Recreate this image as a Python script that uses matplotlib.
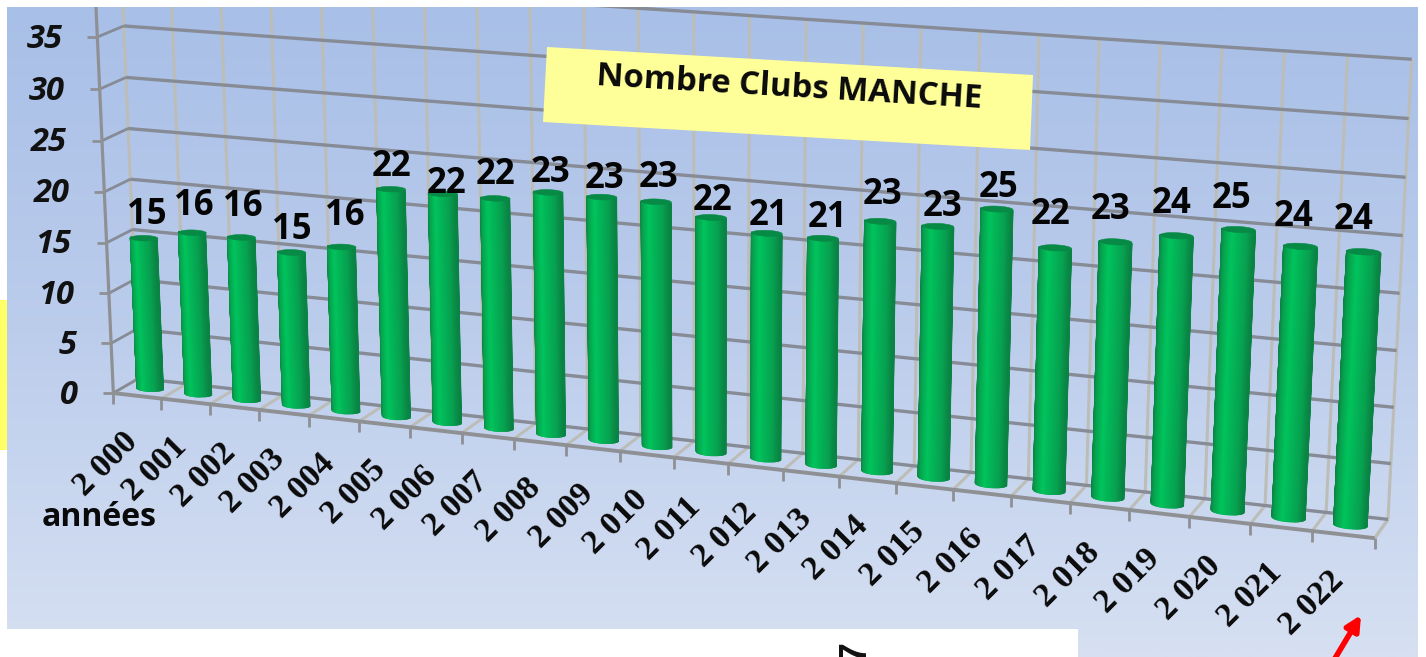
import numpy as np
import matplotlib
matplotlib.use("Agg")
import matplotlib.pyplot as plt
from matplotlib.colors import LinearSegmentedColormap
from matplotlib.patches import Polygon

# data
years = ['2 000', '2 001', '2 002', '2 003', '2 004', '2 005', '2 006', '2 007', '2 008', '2 009', '2 010', '2 011',
         '2 012', '2 013', '2 014', '2 015', '2 016', '2 017', '2 018', '2 019', '2 020', '2 021', '2 022']
clubs = [15, 16, 16, 15, 16, 22, 22, 22, 23, 23, 23, 22, 21, 21, 23, 23, 25, 22, 23, 24, 25, 24, 24]
y_ticks = [0, 5, 10, 15, 20, 25, 30, 35]
grid_values = [0, 5, 10, 15, 20, 25, 30, 35, 40]

# label nudges from the top of each bar (the labels were moved by hand in the original)
label_dx = [3, 1, 1, 0, 3, 0, 3, 0, 2, 2, 2, 1, 2, 4, 2, 4, 1, -5, -5, -5, -7, -7, -10]
label_dy = [-23, -27, -30, -22, -31, -22, -10, -23, -19, -18, -24, -16, -17, -20, -26, -19, -21,
            -33, -32, -32, -31, -29, -32]

W, H = 1426, 657
GRID_DARK = '#868b96'
GRID_LIGHT = '#bdbdb8'

fig = plt.figure(figsize=(W / 100, H / 100), dpi=100)
ax = fig.add_axes([0, 0, 1, 1])
ax.set_xlim(0, W)
ax.set_ylim(H, 0)
ax.axis('off')

# camera: fit a projection matrix on the corners of the 3d box (category, value, depth) -> pixel
world = [(0, 0, 0), (23, 0, 0), (0, 0, 1), (23, 0, 1), (0, 40, 1), (23, 40, 1), (0, 40, 0),
         (7, 0, 0), (20, 0, 0), (17, 40, 1), (7, 35, 1)]
pixel = [(114, 392), (1375, 539), (138, 380), (1388, 518), (123, -26), (1412, 60), (94, -15),
         (462, 433), (1189, 517), (1039, 35), (477, 50)]
A = []
b = []
for (u, v, z), (px, py) in zip(world, pixel):
    A.append([u, v, z, 1, 0, 0, 0, 0, -px * u, -px * v, -px * z])
    A.append([0, 0, 0, 0, u, v, z, 1, -py * u, -py * v, -py * z])
    b += [px, py]
P = np.append(np.linalg.lstsq(np.array(A, float), np.array(b, float), rcond=None)[0], 1).reshape(3, 4)


def proj(u, v, z):
    u, v, z = np.broadcast_arrays(u, v, z)
    p = P @ np.array([u, v, z, np.ones_like(u)], float)
    return p[0] / p[2], p[1] / p[2]


# background panel
panel = Polygon([(7, 7), (1418, 7), (1418, 657), (1078, 657), (1078, 629), (7, 629)], closed=True,
                fc='none', ec='none')
ax.add_patch(panel)
grad = LinearSegmentedColormap.from_list('bg', ['#a8bfe7', '#bccdec', '#d6e0f2'])
im = ax.imshow(np.linspace(0, 1, 300).reshape(-1, 1), cmap=grad, extent=(7, 1418, 657, 7), aspect='auto', zorder=0)
im.set_clip_path(panel)
ax.set_xlim(0, W)
ax.set_ylim(H, 0)


def seg(p0, p1, color, lw, zorder=1):
    line, = ax.plot([p0[0], p1[0]], [p0[1], p1[1]], color=color, lw=lw, zorder=zorder, solid_capstyle='butt')
    line.set_clip_path(panel)


# walls and floor
for i in range(24):
    seg(proj(i, 0, 1), proj(i, 40, 1), GRID_LIGHT, 2.2)
    seg(proj(i, 0, 0), proj(i, 0, 1), GRID_LIGHT, 2.2)
for val in grid_values:
    seg(proj(0, val, 1), proj(23, val, 1), GRID_DARK, 2.4, 1.5)
    seg(proj(0, val, 0), proj(0, val, 1), GRID_DARK, 2.0, 1.5)
seg(proj(0, 0, 0), proj(0, 40, 0), '#8e9094', 2.3, 1.6)
seg(proj(0, 0, 0), proj(23, 0, 0), '#8e9094', 2.8, 1.6)
seg(proj(23, 0, 0), proj(23, 0, 1), GRID_LIGHT, 2.2)

# ticks
for val in y_ticks:
    x0, y0 = proj(0, val, 0)
    seg((x0 - 10, y0), (x0, y0), '#8e9094', 2.0, 1.6)
    ax.text(x0 - 35, y0 + 2, str(val), ha='right', va='center', fontsize=23.5, fontstyle='italic',
            fontweight='bold', family='Open Sans', color='#111111', zorder=5)
for i in range(24):
    x0, y0 = proj(i, 0, 0)
    seg((x0, y0), (x0, y0 + 11), '#8e9094', 2.0, 1.6)

# bars
shade = LinearSegmentedColormap.from_list('bar', [(0, '#0a8444'), (0.15, '#07a050'), (0.6, '#00c45c'),
                                                  (0.85, '#07a24f'), (1, '#0a8042')])
R_U, R_Z = 0.265, 0.19
Z_C = 0.52
theta = np.linspace(np.pi, 0, 71)
for i, val in enumerate(clubs):
    cu = i + 0.5
    for k in range(len(theta) - 1):
        t0, t1 = theta[k], theta[k + 1]
        us = cu + R_U * np.cos([t0, t1])
        zs = Z_C - R_Z * np.sin([t0, t1])
        bx, by = proj(us, 0, zs)
        tx, ty = proj(us, val, zs)
        c = shade((1 + np.cos((t0 + t1) / 2 + np.pi)) / 2)
        ax.fill([bx[0], bx[1], tx[1], tx[0]], [by[0], by[1], ty[1], ty[0]], color=c, lw=1.0, zorder=2 + i * 0.01)
    circ = np.linspace(0, 2 * np.pi, 50)
    cx, cy = proj(cu + R_U * np.cos(circ), val, Z_C + R_Z * np.sin(circ))
    ax.fill(cx, cy, color='#078a45', lw=0.4, zorder=2 + i * 0.01 + 0.001)

    # value label
    tcx, tcy = proj(cu, val, Z_C)
    ax.text(tcx + label_dx[i], tcy + label_dy[i], str(val), ha='center', va='center', fontsize=25,
            fontweight='bold', family='Open Sans', color='#050505', zorder=6)

    # year label
    fx, fy = proj(cu, 0, 0)
    ax.text(fx - 31, fy + 68, years[i], ha='center', va='center', rotation=45, rotation_mode='anchor',
            fontsize=24.5, fontweight='bold', family='Liberation Serif', color='#0a0a0a', zorder=5)

ax.text(99, 517, 'années', ha='center', va='center', fontsize=23, fontweight='bold', family='Open Sans',
        color='#0a0a0a', zorder=6)

# title band
ax.add_patch(Polygon([(547, 47), (1033, 75), (1030, 150), (543, 122)], closed=True, fc='#ffff99', ec='none', zorder=4))
ax.text(789, 88, 'Nombre Clubs MANCHE', ha='center', va='center', rotation=-3.4, rotation_mode='anchor',
        fontsize=23.7, fontweight='bold', family='Open Sans', color='#0a0a0a', zorder=5)

# scraps of the slide around the chart
ax.add_patch(Polygon([(0, 300), (7, 300), (7, 450), (0, 450)], closed=True, fc='#ffff66', ec='none'))
ax.text(855, 641, '7', ha='center', va='top', rotation=90, fontsize=27, fontweight='bold', family='Liberation Sans',
        color='#111111')
ax.annotate('', xy=(1361, 615), xytext=(1334, 660),
            arrowprops=dict(arrowstyle='-|>', color='#ff0000', lw=4, mutation_scale=22, shrinkA=0, shrinkB=0))

fig.savefig('out.png', dpi=100)
